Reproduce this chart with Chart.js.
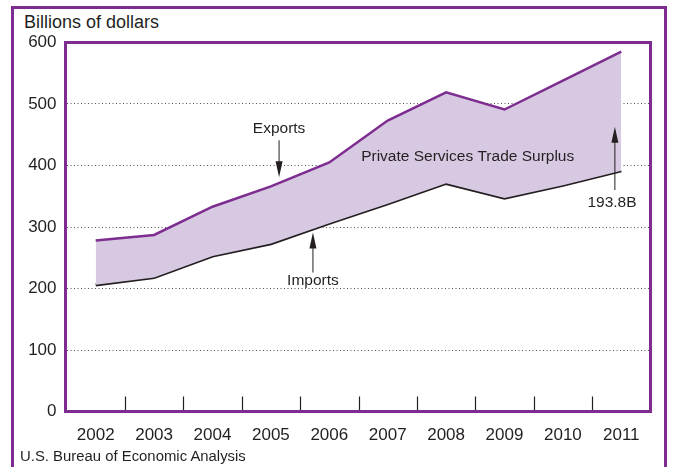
<!DOCTYPE html>
<html>
<head>
<meta charset="utf-8">
<script src="https://cdn.jsdelivr.net/npm/chart.js@4.4.1/dist/chart.umd.min.js"></script>
<style>
  html, body { margin: 0; padding: 0; background: #fff; }
  #wrap { position: relative; width: 674px; height: 467px; overflow: hidden; font-family: "Liberation Sans", Arial, sans-serif; color: #231f20; }
  #frame { position: absolute; left: 11px; top: 6px; width: 650px; height: 480px; border: 3px solid #7d2c8f; border-bottom: none; }
  #units { position: absolute; left: 24px; top: 12px; font-size: 18px; }
  #source { position: absolute; left: 20px; top: 447px; font-size: 15.5px; transform: scaleX(0.96); transform-origin: left top; white-space: nowrap; }
  canvas { position: absolute; left: 0; top: 0; }
</style>
</head>
<body>
<div id="wrap">
  <div id="frame"></div>
  <div id="units">Billions of dollars</div>
  <canvas id="chart" width="674" height="467"></canvas>
  <div id="source">U.S. Bureau of Economic Analysis</div>
</div>
<script>
// private services trade, billions of dollars
const years = ['2002', '2003', '2004', '2005', '2006', '2007', '2008', '2009', '2010', '2011'];
const exportsBn = [278, 287, 333, 366, 405, 473, 519, 491, 538, 585.2];
const importsBn = [206, 218, 253, 273, 306, 338, 371, 347, 368, 391.4];
const yTicks = [0, 100, 200, 300, 400, 500, 600];

const PURPLE = '#7d2c8f';
const INK = '#231f20';
const FONT = '"Liberation Sans", Arial, sans-serif';

const last = years.length - 1;
const surplusLabel = (exportsBn[last] - importsBn[last]).toFixed(1) + 'B';

// callouts in data units (x = category index, y = billions)
const notes = [
  { text: 'Exports', x: 3.14, y: 459, arrow: [441, 381] },
  { text: 'Imports', x: 3.72, y: 213, arrow: [226, 291] },
  { text: 'Private Services Trade Surplus', x: 6.37, y: 414 },
  { text: surplusLabel, x: 8.84, y: 339.5 },
  { x: 8.89, arrow: [360, 463] }
];

const framePlugin = {
  id: 'frame',
  beforeDatasetsDraw(chart) {
    // short boundary ticks rising from the baseline
    const { ctx, chartArea: a, scales: { x } } = chart;
    ctx.save();
    ctx.strokeStyle = INK;
    ctx.lineWidth = 1.2;
    for (let i = 0; i < last; i++) {
      const px = Math.round((x.getPixelForValue(i) + x.getPixelForValue(i + 1)) / 2) + 0.5;
      ctx.beginPath();
      ctx.moveTo(px, a.bottom - 15);
      ctx.lineTo(px, a.bottom);
      ctx.stroke();
    }
    ctx.restore();
  },
  afterDraw(chart) {
    const { ctx, chartArea: a, scales: { x, y } } = chart;
    ctx.save();
    ctx.strokeStyle = PURPLE;
    ctx.lineWidth = 3;
    ctx.strokeRect(a.left - 1, a.top, a.right - a.left + 1, a.bottom - a.top);

    ctx.fillStyle = INK;
    ctx.strokeStyle = INK;
    ctx.lineWidth = 1;
    ctx.font = '15.5px ' + FONT;
    ctx.textAlign = 'center';
    ctx.textBaseline = 'middle';
    for (const n of notes) {
      const px = x.getPixelForValue(n.x);
      if (n.text) ctx.fillText(n.text, px, y.getPixelForValue(n.y));
      if (n.arrow) {
        const y0 = y.getPixelForValue(n.arrow[0]);
        const y1 = y.getPixelForValue(n.arrow[1]);
        const dir = y1 > y0 ? 1 : -1;
        ctx.beginPath();
        ctx.moveTo(px, y0);
        ctx.lineTo(px, y1 - dir * 12);
        ctx.stroke();
        ctx.beginPath();
        ctx.moveTo(px, y1);
        ctx.lineTo(px - 3.5, y1 - dir * 16);
        ctx.lineTo(px + 3.5, y1 - dir * 16);
        ctx.closePath();
        ctx.fill();
      }
    }
    ctx.restore();
  }
};

new Chart(document.getElementById('chart'), {
  type: 'line',
  data: {
    labels: years,
    datasets: [
      {
        label: 'Exports',
        data: exportsBn,
        borderColor: PURPLE,
        borderWidth: 2.5,
        backgroundColor: '#d7c9e2',
        fill: '+1',
        pointRadius: 0,
        tension: 0
      },
      {
        label: 'Imports',
        data: importsBn,
        borderColor: INK,
        borderWidth: 3.2,
        fill: false,
        pointRadius: 0,
        tension: 0
      }
    ]
  },
  options: {
    responsive: false,
    animation: false,
    layout: { padding: { top: 42.5, right: 23.5, left: 0, bottom: 0 } },
    plugins: { legend: { display: false }, tooltip: { enabled: false } },
    scales: {
      x: {
        offset: true,
        grid: { display: false, drawTicks: false },
        border: { display: false },
        ticks: { color: INK, font: { family: FONT, size: 17 }, padding: 14, maxRotation: 0, autoSkip: false },
        afterFit(s) { s.height = 55.5; }
      },
      y: {
        min: 0,
        max: 600,
        afterBuildTicks(s) { s.ticks = yTicks.map(v => ({ value: v })); },
        grid: {
          drawTicks: false,
          color: c => (c.tick.value === 0 || c.tick.value === 600) ? 'rgba(0,0,0,0)' : '#555',
          lineWidth: 1
        },
        border: { display: false, dash: [1, 2.5] },
        ticks: { color: INK, font: { family: FONT, size: 17 }, padding: 10 },
        afterFit(s) { s.width = 66.5; }
      }
    }
  },
  plugins: [framePlugin]
});
</script>
</body>
</html>
